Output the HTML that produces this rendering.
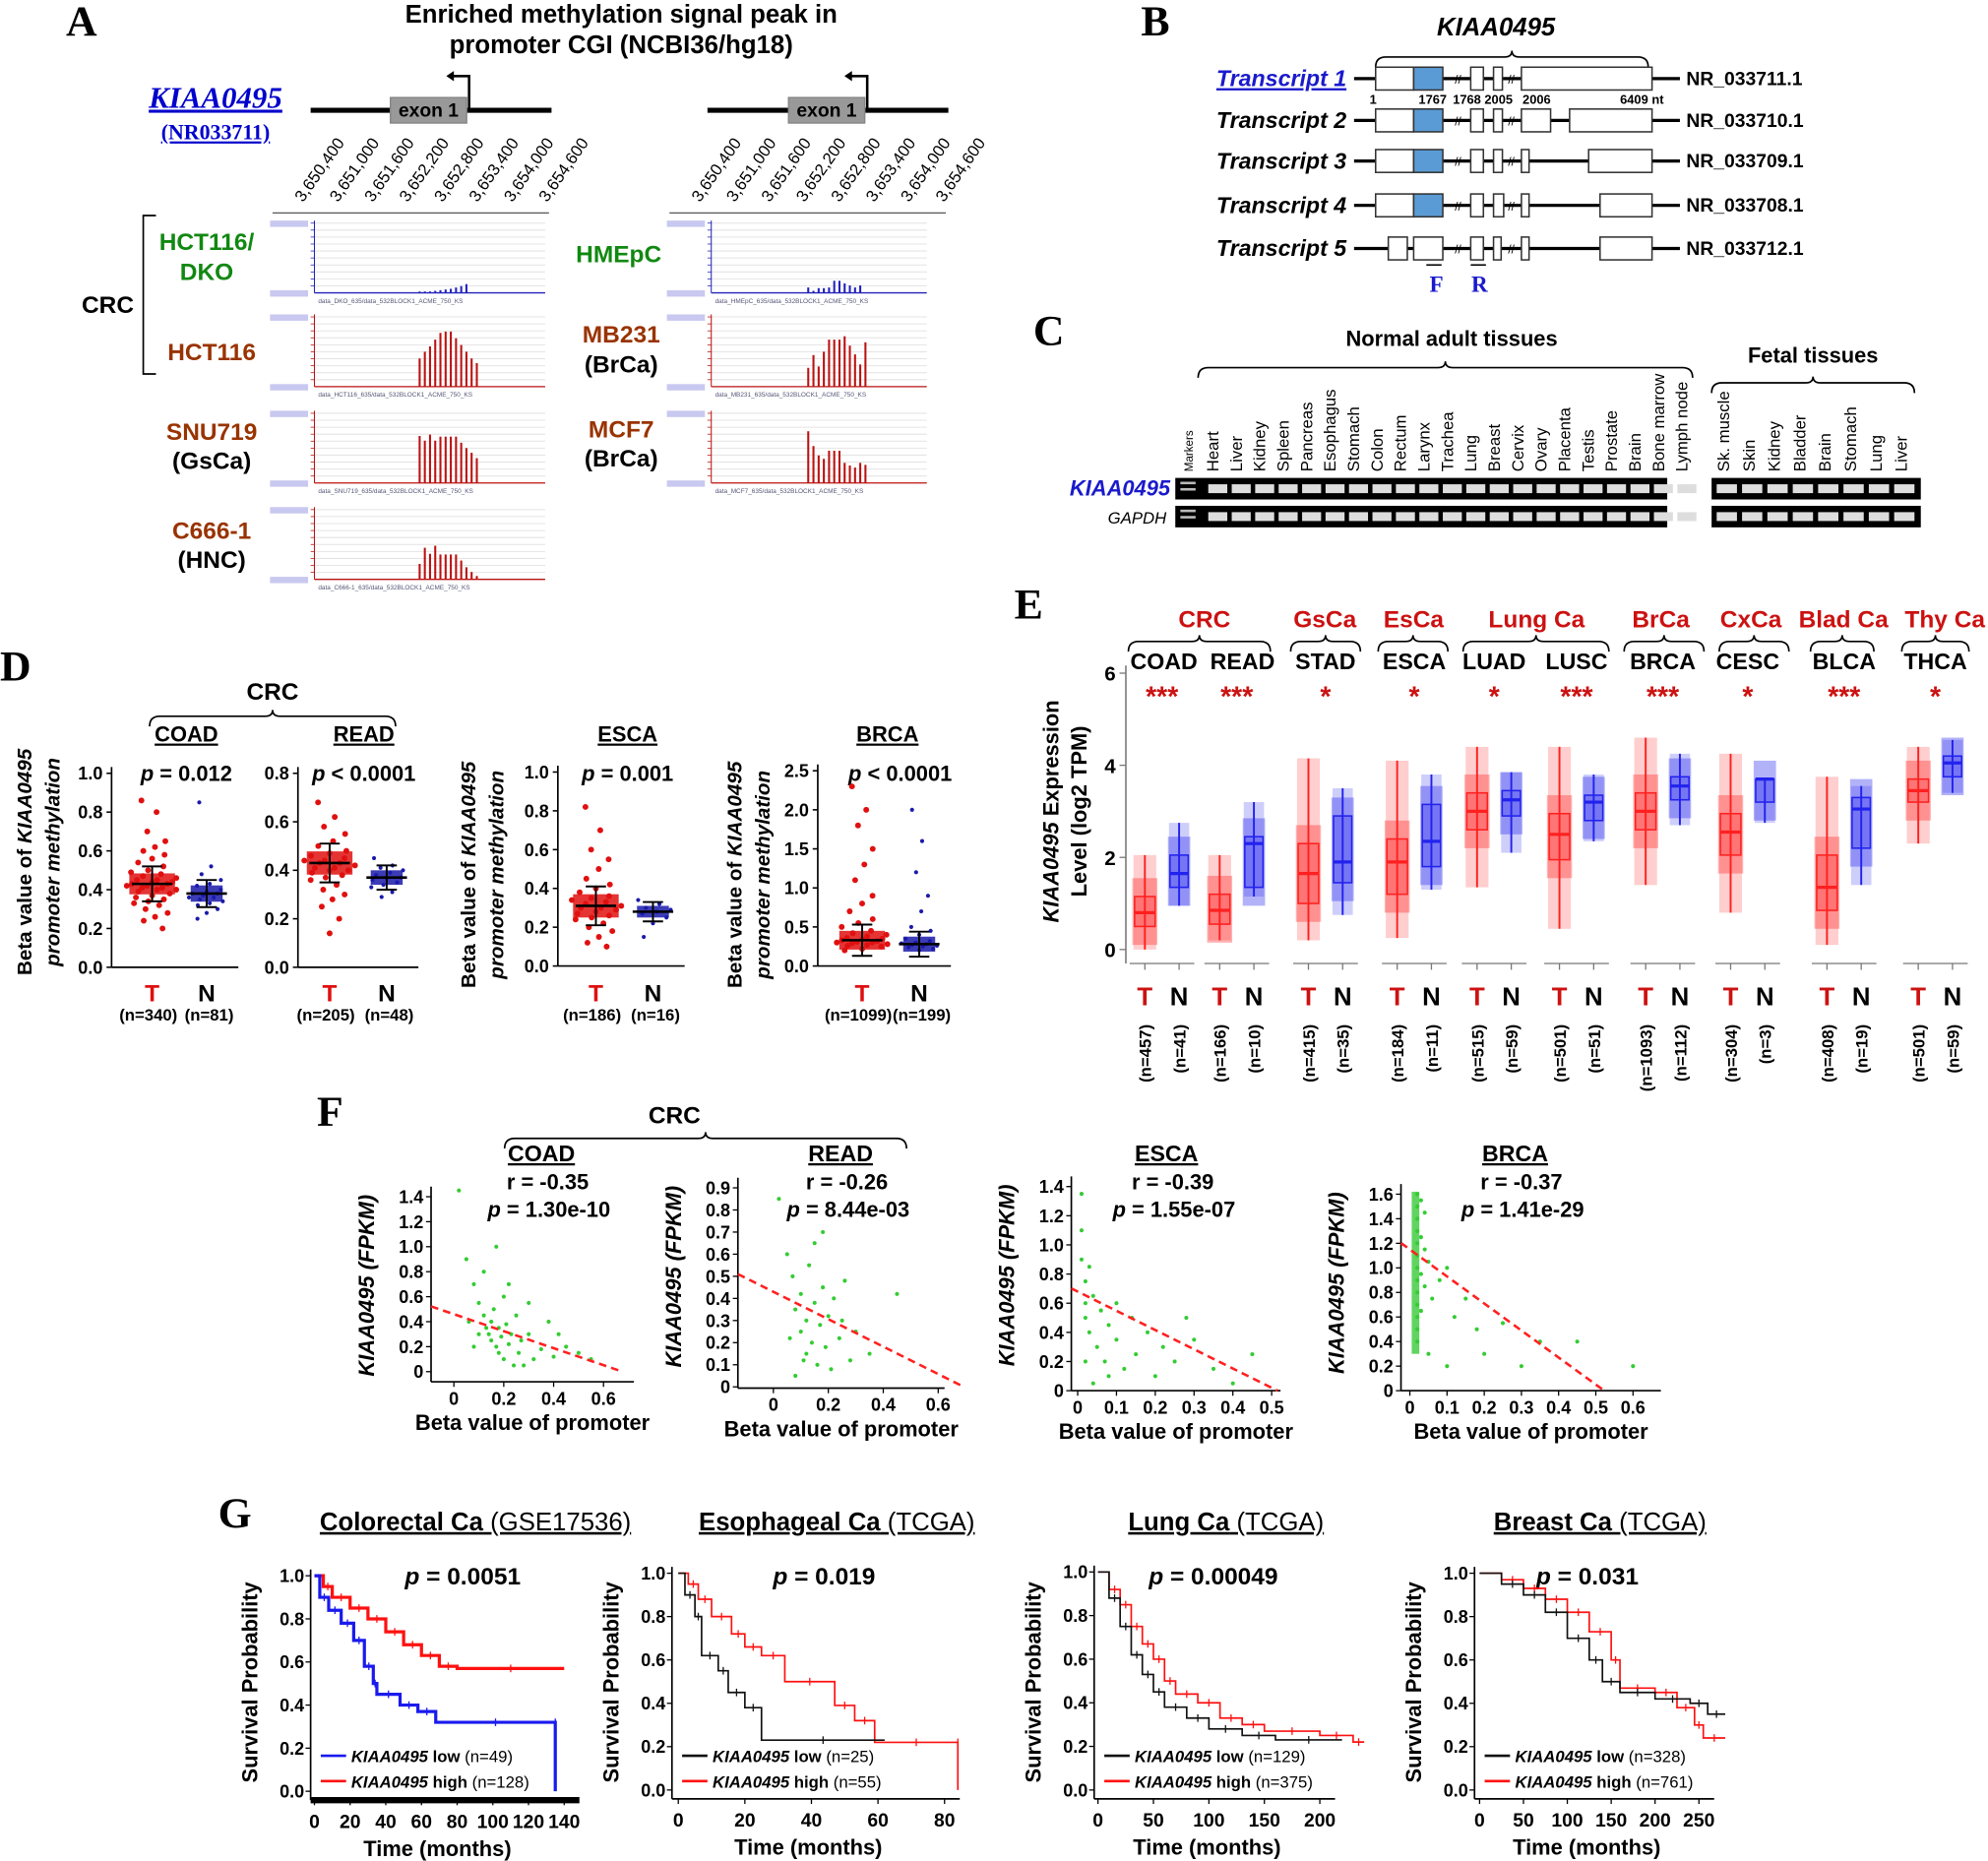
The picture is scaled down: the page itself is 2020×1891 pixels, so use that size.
<!DOCTYPE html>
<html><head><meta charset="utf-8">
<style>
html,body{margin:0;padding:0;background:#fff;}
svg{display:block;}
text{font-family:"Liberation Sans",Arial,sans-serif;}
.serif{font-family:"Liberation Serif",serif;}
</style></head>
<body>
<svg id="fig" xmlns="http://www.w3.org/2000/svg" width="2020" height="1891" viewBox="0 0 1568 1468" preserveAspectRatio="none"></svg>
<script>
// ===== DATA =====
const aDKO=[0.02,0.02,0.02,0.03,0.04,0.05,0.06,0.08,0.1,0.13];
const aHCT=[0.42,0.52,0.6,0.7,0.8,0.82,0.82,0.72,0.62,0.52,0.42,0.35];
const aSNU=[0.7,0.63,0.72,0.63,0.69,0.69,0.69,0.69,0.6,0.52,0.45,0.37];
const aC666=[0.23,0.47,0.38,0.5,0.37,0.37,0.37,0.37,0.28,0.18,0.11,0.05];
const aHME=[0.08,0.03,0.07,0.07,0.08,0.18,0.18,0.14,0.11,0.08,0.11];
const aMB=[0.28,0.47,0.3,0.52,0.7,0.7,0.7,0.75,0.61,0.48,0.33,0.66];
const aMCF=[0.77,0.55,0.41,0.36,0.48,0.48,0.48,0.3,0.26,0.23,0.3,0.27];
const dGroups=["COAD-T","COAD-N","READ-T","READ-N","ESCA-T","ESCA-N","BRCA-T","BRCA-N"];
const dMean=[0.43,0.38,0.43,0.37,0.31,0.28,0.33,0.28];
const dSD=[0.09,0.07,0.08,0.05,0.1,0.05,0.2,0.16];
const dVals=[
 [0.86,0.8,0.7,0.65,0.62,0.6,0.58,0.56,0.54,0.52,0.5,0.49,0.48,0.47,0.46,0.45,0.45,0.44,0.44,0.43,0.43,0.42,0.42,0.41,0.41,0.4,0.4,0.39,0.38,0.37,0.36,0.35,0.34,0.33,0.32,0.3,0.28,0.26,0.24,0.2],
 [0.85,0.52,0.48,0.45,0.43,0.42,0.4,0.39,0.38,0.38,0.37,0.36,0.36,0.35,0.34,0.33,0.32,0.3,0.28,0.25],
 [0.68,0.62,0.58,0.55,0.52,0.5,0.48,0.47,0.46,0.45,0.44,0.44,0.43,0.43,0.42,0.41,0.41,0.4,0.4,0.39,0.38,0.37,0.36,0.34,0.32,0.3,0.28,0.25,0.2,0.14],
 [0.45,0.42,0.41,0.4,0.39,0.38,0.37,0.37,0.36,0.35,0.34,0.33,0.31,0.29],
 [0.82,0.7,0.6,0.55,0.5,0.45,0.42,0.4,0.38,0.36,0.35,0.34,0.33,0.32,0.31,0.3,0.3,0.29,0.28,0.27,0.26,0.25,0.24,0.22,0.2,0.18,0.15,0.12,0.1],
 [0.34,0.32,0.3,0.29,0.28,0.27,0.25,0.22,0.15],
 [2.3,2.0,1.8,1.5,1.3,1.1,0.9,0.8,0.7,0.6,0.55,0.5,0.45,0.42,0.4,0.38,0.36,0.35,0.34,0.33,0.32,0.31,0.3,0.3,0.29,0.28,0.27,0.26,0.25,0.22,0.2],
 [2.0,1.6,1.2,0.9,0.7,0.5,0.45,0.4,0.35,0.32,0.3,0.29,0.28,0.27,0.26,0.25,0.24,0.22,0.2]
];
const eGroups=["COAD","READ","STAD","ESCA","LUAD","LUSC","BRCA","CESC","BLCA","THCA"];
const eTumor=[[0.8,0.5,1.15,0,2.05],[0.85,0.55,1.2,0.2,2.05],[1.65,1.0,2.3,0.2,4.15],[1.9,1.2,2.4,0.25,4.1],[3.0,2.6,3.4,1.35,4.4],[2.5,1.95,2.95,0.45,4.4],[3.0,2.6,3.4,1.4,4.6],[2.55,2.05,2.95,0.8,4.25],[1.35,0.85,2.05,0.1,3.75],[3.45,3.2,3.7,2.3,4.4]];
const eNormal=[[1.65,1.35,2.05,0.95,2.75],[2.3,1.35,2.45,1.15,3.2],[1.9,1.45,2.9,0.75,3.5],[2.35,1.8,3.15,1.3,3.8],[3.25,2.9,3.45,2.1,3.85],[3.2,2.8,3.35,2.35,3.8],[3.55,3.25,3.75,2.7,4.25],[3.7,3.2,3.7,2.75,3.7],[3.05,2.2,3.3,1.4,3.55],[4.05,3.75,4.2,3.4,4.55]];
const eNT=["(n=457)","(n=166)","(n=415)","(n=184)","(n=515)","(n=501)","(n=1093)","(n=304)","(n=408)","(n=501)"];
const eNN=["(n=41)","(n=10)","(n=35)","(n=11)","(n=59)","(n=51)","(n=112)","(n=3)","(n=19)","(n=59)"];
const eStars=["***","***","*","*","*","***","***","*","***","*"];
const fCOAD=[[0.02,1.45],[0.05,0.9],[0.08,0.7],[0.1,0.55],[0.12,0.45],[0.13,0.35],[0.14,0.3],[0.15,0.25],[0.15,0.4],[0.16,0.5],[0.17,0.2],[0.18,0.35],[0.18,0.15],[0.19,0.28],[0.2,0.6],[0.2,0.1],[0.21,0.38],[0.22,0.22],[0.23,0.3],[0.24,0.05],[0.25,0.45],[0.26,0.15],[0.27,0.25],[0.3,0.3],[0.32,0.1],[0.35,0.18],[0.38,0.4],[0.4,0.12],[0.45,0.2],[0.5,0.15],[0.55,0.1],[0.12,0.8],[0.1,0.3],[0.08,0.2],[0.06,0.4],[0.28,0.05],[0.22,0.7],[0.17,1.0],[0.3,0.55],[0.42,0.3]];
const fREAD=[[0.02,0.85],[0.05,0.6],[0.07,0.5],[0.08,0.35],[0.1,0.42],[0.1,0.25],[0.12,0.3],[0.12,0.15],[0.13,0.55],[0.14,0.2],[0.15,0.38],[0.15,0.65],[0.16,0.1],[0.17,0.28],[0.18,0.45],[0.19,0.18],[0.2,0.32],[0.21,0.08],[0.22,0.4],[0.24,0.22],[0.25,0.3],[0.28,0.12],[0.3,0.25],[0.35,0.15],[0.45,0.42],[0.08,0.05],[0.06,0.22],[0.18,0.7],[0.11,0.12],[0.26,0.48]];
const fESCA=[[0.01,1.35],[0.01,1.1],[0.01,0.9],[0.02,0.75],[0.02,0.6],[0.02,0.5],[0.03,0.85],[0.03,0.4],[0.04,0.65],[0.05,0.3],[0.06,0.55],[0.07,0.2],[0.08,0.45],[0.1,0.35],[0.1,0.6],[0.12,0.15],[0.14,0.5],[0.15,0.25],[0.18,0.4],[0.2,0.1],[0.22,0.3],[0.25,0.2],[0.3,0.35],[0.35,0.15],[0.4,0.05],[0.45,0.25],[0.02,0.2],[0.04,0.05],[0.08,0.1],[0.28,0.5]];
const fBRCA=[[0.02,1.6],[0.02,1.5],[0.02,1.4],[0.02,1.3],[0.02,1.2],[0.02,1.1],[0.02,1.0],[0.02,0.9],[0.02,0.8],[0.02,0.7],[0.02,0.6],[0.02,0.5],[0.02,0.4],[0.03,1.55],[0.03,1.25],[0.03,0.95],[0.03,0.65],[0.04,1.45],[0.04,1.15],[0.04,0.85],[0.05,1.05],[0.06,0.75],[0.08,0.9],[0.1,1.0],[0.12,0.6],[0.15,0.75],[0.18,0.5],[0.2,0.3],[0.25,0.55],[0.3,0.2],[0.35,0.4],[0.45,0.4],[0.6,0.2],[0.05,0.3],[0.1,0.2]];
const fLines=[[0.46,-0.68],[0.43,-0.62],[0.68,-1.32],[1.15,-2.2]];
const gCRChigh=[[0,1],[5,0.95],[10,0.9],[20,0.85],[30,0.8],[40,0.74],[50,0.68],[60,0.63],[70,0.58],[80,0.57],[140,0.57]];
const gCRClow=[[0,1],[3,0.9],[8,0.84],[15,0.78],[22,0.7],[28,0.58],[33,0.5],[35,0.45],[48,0.4],[58,0.37],[68,0.32],[135,0.32],[135,0]];
const gESChigh=[[0,1],[3,0.95],[6,0.88],[10,0.8],[16,0.72],[20,0.66],[25,0.62],[32,0.5],[47,0.39],[53,0.32],[59,0.22],[84,0.22],[84,0]];
const gESClow=[[0,1],[2,0.9],[5,0.8],[7,0.62],[12,0.55],[15,0.45],[20,0.38],[25,0.23],[62,0.23]];
const gLUNhigh=[[0,1],[10,0.92],[20,0.85],[30,0.75],[40,0.67],[50,0.6],[60,0.5],[70,0.44],[90,0.4],[110,0.33],[130,0.3],[150,0.27],[200,0.25],[230,0.22],[240,0.22]];
const gLUNlow=[[0,1],[10,0.88],[20,0.75],[30,0.62],[40,0.53],[50,0.45],[60,0.38],[80,0.33],[100,0.28],[130,0.25],[160,0.23],[220,0.23]];
const gBRChigh=[[0,1],[25,0.97],[50,0.93],[75,0.88],[100,0.82],[125,0.73],[150,0.6],[160,0.47],[200,0.45],[225,0.38],[245,0.3],[255,0.24],[280,0.24]];
const gBRClow=[[0,1],[25,0.95],[50,0.9],[75,0.82],[100,0.7],[125,0.6],[140,0.5],[160,0.45],[200,0.42],[240,0.4],[260,0.35],[280,0.35]];

// ===== HELPERS =====
const S="http://www.w3.org/2000/svg";const fig=document.getElementById('fig');
function mk(tag,at,name,inter,parent){const e=document.createElementNS(S,tag);for(const k in at)e.setAttribute(k,at[k]);


(parent||fig).appendChild(e);return e;}
function tx(x,y,s,o,name){o=o||{};const a={x:x,y:y,'font-size':o.fs||16,'font-weight':o.fw||'bold',fill:o.fill||'#000','text-anchor':o.anchor||'middle'};
if(o.it)a['font-style']='italic';if(o.tr)a.transform=o.tr;if(o.cls)a['class']=o.cls;if(o.ul)a['text-decoration']='underline';
const e=mk('text',a,name||'label',false);e.textContent=s;return e;}
function span(parent,s,attrs){const t=document.createElementNS(S,'tspan');for(const k in attrs)t.setAttribute(k,attrs[k]);t.textContent=s;parent.appendChild(t);return t;}
function ln(x1,y1,x2,y2,st,w,name,dash){const a={x1:x1,y1:y1,x2:x2,y2:y2,stroke:st||'#000','stroke-width':w||1.5};if(dash)a['stroke-dasharray']=dash;return mk('line',a,name||'line',false);}
function rc(x,y,w,h,f,st,name,op){const a={x:x,y:y,width:w,height:h,fill:f||'none'};if(st){a.stroke=st;a['stroke-width']=1.2;}if(op!=null)a['fill-opacity']=op;return mk('rect',a,name||'rect',false);}
function brace(x1,x2,y,name){const m=(x1+x2)/2;mk('path',{d:`M${x1},${y+8} Q${x1},${y} ${x1+8},${y} L${m-6},${y} Q${m},${y} ${m},${y-5} Q${m},${y} ${m+6},${y} L${x2-8},${y} Q${x2},${y} ${x2},${y+8}`,fill:'none',stroke:'#000','stroke-width':1.3},name,false);}
function lab(x,y,s){tx(x,y,s,{fs:34,cls:'serif',anchor:'start'},'panel-label-'+s);}

// ===== PANEL A =====
lab(52,28,'A');
tx(490,18,'Enriched methylation signal peak in',{fs:20},'panel-a-title');
tx(490,42,'promoter CGI (NCBI36/hg18)',{fs:20},'panel-a-title');
tx(170,85,'KIAA0495',{fs:24,it:true,fill:'#0000cc',ul:true,cls:'serif'},'gene-name');
tx(170,110,'(NR033711)',{fs:17,fill:'#0000cc',ul:true,cls:'serif'},'refseq-id');
[[245,435,308],[558,748,622]].forEach((g,gi)=>{
 ln(g[0],87,g[1],87,'#000',4,'gene-line');
 rc(g[2],77,60,20,'#999','#888','exon-1-box');
 tx(g[2]+30,92,'exon 1',{fs:15},'exon-label');
 mk('path',{d:`M${g[2]+62},87 L${g[2]+62},60 L${g[2]+48},60`,fill:'none',stroke:'#000','stroke-width':2},'tss-arrow',false);
 mk('path',{d:`M${g[2]+44},60 L${g[2]+50},56 L${g[2]+50},64 Z`,fill:'#000'},'tss-arrowhead',false);
 const ticks=['3,650,400','3,651,000','3,651,600','3,652,200','3,652,800','3,653,400','3,654,000','3,654,600'];
 const x0=g[0]-6;
 ticks.forEach((t,i)=>{const x=x0+i*27.5;tx(x,160,t,{fs:13,fw:'normal',anchor:'start',tr:`rotate(-55 ${x} 160)`},'genomic-tick');});
 ln(g[0]-30,168,g[1]-2,168,'#555',1,'track-axis');
});
function track(x,y,w,h,vals,col,name){
 rc(x,y,w,h,'#fff',null,name);
 for(let i=0;i<10;i++){const yy=y+4+i*(h-10)/10;ln(x+35,yy,x+w,yy,'#e4e4e4',0.8,'gridline');ln(x+32,yy,x+35,yy,col,0.6,'track-tick');}
 rc(x,y+2,30,5,'#c8c8f0',null,'scale-tag');rc(x,y+h-8,30,5,'#c8c8f0',null,'scale-tag');
 ln(x+35,y+2,x+35,y+h-6,col,0.8,'track-y-axis');ln(x+35,y+h-6,x+w,y+h-6,col,1,'track-baseline');
 const bw=4.1,sx=x+w*0.54;
 vals.forEach((v,i)=>{rc(sx+i*bw,y+h-6-v*(h-12),1.6,v*(h-12),col,null,'signal-bar');});
 tx(x+38,y+h+2,'data_'+name+'_635/data_532BLOCK1_ACME_750_KS',{fs:5,fw:'normal',fill:'#557',anchor:'start'},'track-caption');
}
track(213,172,217,65,aDKO,'#2222bb','DKO');
track(213,246,217,65,aHCT,'#bb1111','HCT116');
track(213,322,217,65,aSNU,'#bb1111','SNU719');
track(213,398,217,65,aC666,'#bb1111','C666-1');
track(526,172,205,65,aHME,'#2222bb','HMEpC');
track(526,246,205,65,aMB,'#bb1111','MB231');
track(526,322,205,65,aMCF,'#bb1111','MCF7');
const gr='#118811',br='#993300';
tx(163,197,'HCT116/',{fs:19,fill:gr},'cell-line');tx(163,221,'DKO',{fs:19,fill:gr},'cell-line');
tx(85,247,'CRC',{fs:19},'cancer-label');
mk('path',{d:'M123,170 L113,170 L113,295 L123,295',fill:'none',stroke:'#000','stroke-width':1.3},'crc-bracket',false);
tx(167,284,'HCT116',{fs:19,fill:br},'cell-line');
tx(167,347,'SNU719',{fs:19,fill:br},'cell-line');tx(167,370,'(GsCa)',{fs:19},'cancer-label');
tx(167,425,'C666-1',{fs:19,fill:br},'cell-line');tx(167,448,'(HNC)',{fs:19},'cancer-label');
tx(488,207,'HMEpC',{fs:19,fill:gr},'cell-line');
tx(490,270,'MB231',{fs:19,fill:br},'cell-line');tx(490,294,'(BrCa)',{fs:19},'cancer-label');
tx(490,345,'MCF7',{fs:19,fill:br},'cell-line');tx(490,368,'(BrCa)',{fs:19},'cancer-label');

// ===== PANEL B =====
lab(900,28,'B');
tx(1180,28,'KIAA0495',{fs:20,it:true},'gene-title');
brace(1085,1300,45,'gene-brace');
const trY=[62,95,127,162,196];
const trB=[
 [[1085,1115,0],[1115,1138,1],[1160,1170,0],[1178,1185,0],[1200,1303,0]],
 [[1085,1115,0],[1115,1138,1],[1160,1170,0],[1178,1185,0],[1200,1223,0],[1238,1303,0]],
 [[1085,1115,0],[1115,1138,1],[1160,1170,0],[1178,1185,0],[1200,1206,0],[1253,1303,0]],
 [[1085,1115,0],[1115,1138,1],[1160,1170,0],[1178,1186,0],[1200,1206,0],[1262,1303,0]],
 [[1095,1110,0],[1115,1138,0],[1160,1170,0],[1178,1184,0],[1200,1206,0],[1262,1303,0]]];
const nrIds=['NR_033711.1','NR_033710.1','NR_033709.1','NR_033708.1','NR_033712.1'];
trY.forEach((y,i)=>{
 tx(1062,y+6,'Transcript '+(i+1),{fs:18,it:true,anchor:'end',fill:i==0?'#1a1acc':'#000',ul:i==0},'transcript-label');
 ln(1068,y,1325,y,'#000',2.5,'transcript-line');
 trB[i].forEach(b=>rc(b[0],y-9,b[1]-b[0],18,b[2]?'#5b9bd5':'#fff','#333',b[2]?'coding-exon':'exon'));
 tx(1150,y+4,'//',{fs:9,fw:'normal'},'break-mark');tx(1192,y+4,'//',{fs:9,fw:'normal'},'break-mark');
 tx(1330,y+5,nrIds[i],{fs:15,anchor:'start'},'refseq-label');
});
[['1',1083],['1767',1130],['1768',1157],['2005',1182],['2006',1212],['6409 nt',1295]].forEach(p=>tx(p[1],82,p[0],{fs:10},'nt-position'));
ln(1125,209,1137,209,'#000',1.2,'primer-f');ln(1160,209,1172,209,'#000',1.2,'primer-r');
tx(1133,230,'F',{fs:18,fill:'#1a1acc',cls:'serif'},'primer-f-label');tx(1167,230,'R',{fs:18,fill:'#1a1acc',cls:'serif'},'primer-r-label');

// ===== PANEL C =====
lab(815,272,'C');
tx(1145,273,'Normal adult tissues',{fs:17},'normal-tissues-title');
tx(1430,286,'Fetal tissues',{fs:17},'fetal-tissues-title');
brace(945,1335,290,'normal-brace');brace(1350,1510,302,'fetal-brace');
const adult=['Heart','Liver','Kidney','Spleen','Pancreas','Esophagus','Stomach','Colon','Rectum','Larynx','Trachea','Lung','Breast','Cervix','Ovary','Placenta','Testis','Prostate','Brain','Bone marrow','Lymph node'];
const fetal=['Sk. muscle','Skin','Kidney','Bladder','Brain','Stomach','Lung','Liver'];
tx(941,372,'Markers',{fs:9,fw:'normal',anchor:'start',tr:'rotate(-90 941 372)'},'lane-label');
adult.forEach((t,i)=>{const x=961+i*18.5;tx(x,372,t,{fs:13,fw:'normal',anchor:'start',tr:`rotate(-90 ${x} 372)`},'lane-label');});
fetal.forEach((t,i)=>{const x=1364+i*20;tx(x,372,t,{fs:13,fw:'normal',anchor:'start',tr:`rotate(-90 ${x} 372)`},'lane-label');});
tx(923,391,'KIAA0495',{fs:17,it:true,fill:'#1a1acc',anchor:'end'},'gel-gene-label');
tx(920,413,'GAPDH',{fs:13,it:true,fw:'normal',anchor:'end'},'gel-gapdh-label');
[[377,'kiaa-band'],[399,'gapdh-band']].forEach(r=>{
 rc(927,r[0],388,17,'#000',null,'gel-strip');rc(1350,r[0],165,17,'#000',null,'gel-strip-fetal');
 adult.forEach((t,i)=>rc(953+i*18.5,r[0]+5,15,7,'#ddd',null,r[1]));
 fetal.forEach((t,i)=>rc(1354+i*20,r[0]+5,16,7,'#ddd',null,r[1]));
 rc(931,r[0]+3,12,2,'#bbb',null,'marker-band');rc(931,r[0]+8,12,2,'#bbb',null,'marker-band');
});

// ===== PANEL D =====
lab(0,537,'D');
tx(215,552,'CRC',{fs:19},'crc-label');brace(118,312,565,'crc-brace');
const dPlots=[
 {ax:88,top:610,bot:763,max:1.0,ticks:['0.0','0.2','0.4','0.6','0.8','1.0'],tx:120,nx:163,t:'COAD',tl:147,p:'p = 0.012',n1:'(n=340)',n2:'(n=81)',gi:0},
 {ax:235,top:610,bot:763,max:0.8,ticks:['0.0','0.2','0.4','0.6','0.8'],tx:260,nx:305,t:'READ',tl:287,p:'p < 0.0001',n1:'(n=205)',n2:'(n=48)',gi:2},
 {ax:440,top:609,bot:762,max:1.0,ticks:['0.0','0.2','0.4','0.6','0.8','1.0'],tx:470,nx:515,t:'ESCA',tl:495,p:'p = 0.001',n1:'(n=186)',n2:'(n=16)',gi:4},
 {ax:645,top:608,bot:762,max:2.5,ticks:['0.0','0.5','1.0','1.5','2.0','2.5'],tx:680,nx:725,t:'BRCA',tl:700,p:'p < 0.0001',n1:'(n=1099)',n2:'(n=199)',gi:6}];
[[25,680],[375,690],[585,690]].forEach((p,i)=>{
 const t1=tx(p[0],p[1],'',{fs:16,tr:`rotate(-90 ${p[0]} ${p[1]})`},'y-axis-title');
 span(t1,'Beta value of ',{});span(t1,'KIAA0495',{'font-style':'italic'});
 const t2=tx(p[0]+22,p[1],'',{fs:16,tr:`rotate(-90 ${p[0]+22} ${p[1]})`},'y-axis-title');
 span(t2,'promoter methylation',{'font-style':'italic'});
});
dPlots.forEach(d=>{
 const ys=v=>d.bot-(v/d.max)*(d.bot-d.top);
 ln(d.ax,d.top-5,d.ax,d.bot,'#000',1.3,'y-axis');
 ln(d.ax,d.bot,d.nx+25,d.bot,'#000',1.3,'x-axis');
 d.ticks.forEach(t=>{const y=ys(parseFloat(t));ln(d.ax-4,y,d.ax,y,'#000',1.2,'y-tick');tx(d.ax-7,y+5,t,{fs:14,anchor:'end'},'y-tick-label');});
 tx(d.tl,585,d.t,{fs:17,ul:true},'subplot-title');
 const pt=tx(d.tl+(d.gi==6?10:0),616,'',{fs:17},'p-value');
 span(pt,'p',{'font-style':'italic'});span(pt,d.p.slice(1),{});
 [[d.tx,d.gi,'#e01010'],[d.nx,d.gi+1,'#1a1aaa']].forEach(q=>{
  const vals=dVals[q[1]];const spread=q[1]%2?14:20;
  rc(q[0]-spread*0.9,ys(dMean[q[1]]+dSD[q[1]]*0.6),spread*1.8,ys(dMean[q[1]]-dSD[q[1]]*0.6)-ys(dMean[q[1]]+dSD[q[1]]*0.6),q[2],null,'point-cloud',0.85);
  vals.forEach((v,i)=>{const off=((i*7)%11-5)/5*spread*Math.min(1,0.4+0.7*Math.exp(-Math.abs(v-dMean[q[1]])*8/d.max));
   mk('circle',{cx:q[0]+off,cy:ys(v),r:q[1]%2?1.6:2.3,fill:q[2]},'data-point',false);});
  ln(q[0]-16,ys(dMean[q[1]]),q[0]+16,ys(dMean[q[1]]),'#000',2,'mean-line');
  ln(q[0]-8,ys(dMean[q[1]]+dSD[q[1]]),q[0]+8,ys(dMean[q[1]]+dSD[q[1]]),'#000',1.5,'sd-line');
  ln(q[0]-8,ys(dMean[q[1]]-dSD[q[1]]),q[0]+8,ys(dMean[q[1]]-dSD[q[1]]),'#000',1.5,'sd-line');
  ln(q[0],ys(dMean[q[1]]-dSD[q[1]]),q[0],ys(dMean[q[1]]+dSD[q[1]]),'#000',1.5,'sd-line');
 });
 tx(d.tx,790,'T',{fs:19,fill:'#e01010'},'tumor-label');tx(d.nx,790,'N',{fs:19},'normal-label');
 tx(d.tx-3,805,d.n1,{fs:13},'n-label');tx(d.nx+2,805,d.n2,{fs:13},'n-label');
});

// ===== PANEL E =====
lab(800,488,'E');
const eTX=[903,962,1032,1102,1165,1230,1298,1365,1441,1513];
const eY=v=>749-v*(749-531)/6;
ln(888,525,888,760,'#777',1.2,'y-axis');
[0,2,4,6].forEach(v=>{ln(883,eY(v),888,eY(v),'#777',1,'y-tick');tx(880,eY(v)+6,String(v),{fs:16,anchor:'end'},'y-tick-label');});
const ey1=tx(835,640,'',{fs:17,tr:'rotate(-90 835 640)'},'y-axis-title');
span(ey1,'KIAA0495',{'font-style':'italic'});span(ey1,' Expression',{});
tx(857,640,'Level (log2 TPM)',{fs:17,tr:'rotate(-90 857 640)'},'y-axis-title');
[['CRC',950,890,1002],['GsCa',1045,1018,1073],['EsCa',1115,1087,1142],['Lung Ca',1212,1154,1269],['BrCa',1310,1281,1344],['CxCa',1381,1356,1411],['Blad Ca',1454,1428,1478],['Thy Ca',1534,1500,1553]].forEach(h=>{
 tx(h[1],495,h[0],{fs:19,fill:'#cc1111'},'cancer-group');brace(h[2],h[3],506,'group-brace');});
eGroups.forEach((g,i)=>{
 const xt=eTX[i],xn=xt+27;
 tx(i==0?918:i==1?980:(xt+xn)/2,528,g,{fs:18},'subtype-label');
 tx((xt+xn)/2,557,eStars[i],{fs:22,fill:'#cc1111'},'significance-stars');
 ln(xt-12,760,xn+12,760,'#777',1,'x-axis');
 [[xt,eTumor[i],'#ff2020',9],[xn,eNormal[i],'#2222ee',8]].forEach(b=>{
  const s=b[1];
  rc(b[0]-b[3],eY(s[4]),b[3]*2,eY(s[3])-eY(s[4]),b[2],null,'jitter-cloud',0.22);
  rc(b[0]-b[3]*1.1,eY(s[2]+0.4),b[3]*2.2,eY(s[1]-0.4)-eY(s[2]+0.4),b[2],null,'jitter-core',0.35);
  ln(b[0],eY(s[3]),b[0],eY(s[4]),b[2],1.5,'whisker');
  rc(b[0]-b[3]*0.9,eY(s[2]),b[3]*1.8,eY(s[1])-eY(s[2]),b[2],b[2],'box',0.25);
  ln(b[0]-b[3]*0.9,eY(s[0]),b[0]+b[3]*0.9,eY(s[0]),b[2],2.5,'median');
  ln(b[0],760,b[0],765,'#777',1,'x-tick');
 });
 tx(xt,793,'T',{fs:20,fill:'#cc1111'},'tumor-label');tx(xn,793,'N',{fs:20},'normal-label');
 tx(xt+5,808,eNT[i],{fs:13,anchor:'end',tr:`rotate(-90 ${xt+5} 808)`},'n-label');
 tx(xn+5,808,eNN[i],{fs:13,anchor:'end',tr:`rotate(-90 ${xn+5} 808)`},'n-label');
});

// ===== PANEL F =====
lab(250,888,'F');
tx(532,886,'CRC',{fs:19},'crc-label');brace(398,715,898,'crc-brace');
const fPlots=[
 {d:fCOAD,ax:340,x0:358,x1:476,xm:0.6,top:944,bot:1082,ym:1.4,ys:0.2,xt:['0','0.2','0.4','0.6'],t:'COAD',tl:427,r:'r = -0.35',p:'1.30e-10',ay:1090,xend:500},
 {d:fREAD,ax:582,x0:610,x1:740,xm:0.6,top:937,bot:1094,ym:0.9,ys:0.1,xt:['0','0.2','0.4','0.6'],t:'READ',tl:663,r:'r = -0.26',p:'8.44e-03',ay:1095,xend:745},
 {d:fESCA,ax:845,x0:850,x1:1003,xm:0.5,top:936,bot:1097,ym:1.4,ys:0.2,xt:['0','0.1','0.2','0.3','0.4','0.5'],t:'ESCA',tl:920,r:'r = -0.39',p:'1.55e-07',ay:1097,xend:1010},
 {d:fBRCA,ax:1105,x0:1112,x1:1288,xm:0.6,top:942,bot:1097,ym:1.6,ys:0.2,xt:['0','0.1','0.2','0.3','0.4','0.5','0.6'],t:'BRCA',tl:1195,r:'r = -0.37',p:'1.41e-29',ay:1097,xend:1310}];
fPlots.forEach((f,fi)=>{
 const L=fLines[fi];
 const X=v=>f.x0+v/f.xm*(f.x1-f.x0),Y=v=>f.bot-v/f.ym*(f.bot-f.top),Xi=px=>(px-f.x0)/(f.x1-f.x0)*f.xm;
 ln(f.ax,f.top-8,f.ax,f.ay,'#000',1.3,'y-axis');ln(f.ax,f.ay,f.xend,f.ay,'#000',1.3,'x-axis');
 for(let v=0;v<=f.ym+1e-6;v+=f.ys){const y=Y(v);ln(f.ax-4,y,f.ax,y,'#000',1,'y-tick');tx(f.ax-6,y+5,(Math.round(v*10)/10).toFixed(v==0?0:1),{fs:14,anchor:'end'},'y-tick-label');}
 f.xt.forEach(t=>{const x=X(parseFloat(t));ln(x,f.ay,x,f.ay+4,'#000',1,'x-tick');tx(x,f.ay+18,t,{fs:14},'x-tick-label');});
 tx((f.ax+f.xend)/2,f.ay+38,'Beta value of promoter',{fs:17},'x-axis-title');
 tx(f.ax-45,f.top+70,'KIAA0495 (FPKM)',{fs:17,it:true,tr:`rotate(-90 ${f.ax-45} ${f.top+70})`},'y-axis-title');
 tx(f.tl,916,f.t,{fs:18,ul:true},'subplot-title');
 tx(f.tl+5,938,f.r,{fs:17},'r-value');
 const pt=tx(f.tl+6,960,'',{fs:17},'p-value');span(pt,'p',{'font-style':'italic'});span(pt,' = '+f.p,{});
 if(f.t=='BRCA')rc(X(0.005),Y(1.62),6,Y(0.3)-Y(1.62),'#44cc44',null,'dense-cluster',0.85);
 f.d.forEach(p=>mk('circle',{cx:X(p[0]),cy:Y(p[1]),r:1.6,fill:'#33cc33'},'data-point',false));
 const xs=Xi(f.ax),xb=-L[0]/L[1];
 ln(f.ax,Y(L[0]+L[1]*xs),X(xb),Y(0),'#ff2020',2,'regression-line','6,4');
});

// ===== PANEL G =====
lab(172,1205,'G');
const gPlots=[
 {ax:245,top:1243,bot:1413,x0:248,x1:445,xm:140,xs:20,t1:'Colorectal Ca',t2:' (GSE17536)',tc:375,p:'0.0051',hi:gCRChigh,lo:gCRClow,loc:'#1a1aee',nl:'(n=49)',nh:'(n=128)',ay:1420},
 {ax:530,top:1241,bot:1412,x0:535,x1:745,xm:80,xs:20,t1:'Esophageal Ca',t2:' (TCGA)',tc:660,p:'0.019',hi:gESChigh,lo:gESClow,loc:'#111',nl:'(n=25)',nh:'(n=55)',ay:1419},
 {ax:863,top:1240,bot:1412,x0:866,x1:1041,xm:200,xs:50,t1:'Lung Ca',t2:' (TCGA)',tc:967,p:'0.00049',hi:gLUNhigh,lo:gLUNlow,loc:'#111',nl:'(n=129)',nh:'(n=375)',ay:1419},
 {ax:1163,top:1241,bot:1412,x0:1167,x1:1340,xm:250,xs:50,t1:'Breast Ca',t2:' (TCGA)',tc:1262,p:'0.031',hi:gBRChigh,lo:gBRClow,loc:'#111',nl:'(n=328)',nh:'(n=761)',ay:1419}];
gPlots.forEach((g,gi)=>{
 const X=v=>g.x0+v/g.xm*(g.x1-g.x0),Y=v=>g.bot-v*(g.bot-g.top);
 const t=tx(g.tc,1207,'',{fs:20,ul:true},'km-title');
 span(t,g.t1,{});span(t,g.t2,{'font-weight':'normal'});
 ln(g.ax,g.top-5,g.ax,g.ay,'#000',1.3,'y-axis');ln(g.ax,g.ay,g.x1+12,g.ay,'#000',gi==0?5:1.3,'x-axis');
 [0,0.2,0.4,0.6,0.8,1.0].forEach(v=>{ln(g.ax-4,Y(v),g.ax,Y(v),'#000',1,'y-tick');tx(g.ax-5,Y(v)+5,v.toFixed(1),{fs:14,anchor:'end'},'y-tick-label');});
 for(let v=0;v<=g.xm;v+=g.xs){ln(X(v),g.ay,X(v),g.ay+4,'#000',1,'x-tick');tx(X(v),g.ay+22,String(v),{fs:15},'x-tick-label');}
 tx((g.ax+g.x1)/2,g.ay+44,'Time (months)',{fs:17},'x-axis-title');
 tx(g.ax-42,1327,'Survival Probability',{fs:17,tr:`rotate(-90 ${g.ax-42} 1327)`},'y-axis-title');
 const pt=tx(g.tc-10,1250,'',{fs:19},'p-value');
 span(pt,'p',{'font-style':'italic'});span(pt,' = '+g.p,{});
 [[g.hi,'#ff1010','km-high'],[g.lo,g.loc,'km-low']].forEach(s=>{
  let d='M'+X(s[0][0][0])+','+Y(s[0][0][1]);
  for(let i=1;i<s[0].length;i++)d+=' H'+X(s[0][i][0])+' V'+Y(s[0][i][1]);
  mk('path',{d:d,fill:'none',stroke:s[1],'stroke-width':gi==0?2.5:1.3},s[2],false);
  for(let i=1;i<s[0].length-1;i++){const xm=(X(s[0][i][0])+X(s[0][i+1][0]))/2;if(s[0][i][1]>0)ln(xm,Y(s[0][i][1])-3,xm,Y(s[0][i][1])+3,s[1],1,'censor-mark');}
 });
 [[g.loc,'low',g.nl,1390],[ '#ff1010','high',g.nh,1410]].forEach(l=>{
  ln(g.ax+8,l[3]-5,g.ax+28,l[3]-5,l[0],2,'legend-swatch');
  const e=tx(g.ax+32,l[3],'',{fs:13,anchor:'start'},'legend-entry');
  span(e,'KIAA0495',{'font-style':'italic'});span(e,' '+l[1]+' ',{});span(e,l[2],{'font-weight':'normal'});
 });
});
</script>
</body></html>
